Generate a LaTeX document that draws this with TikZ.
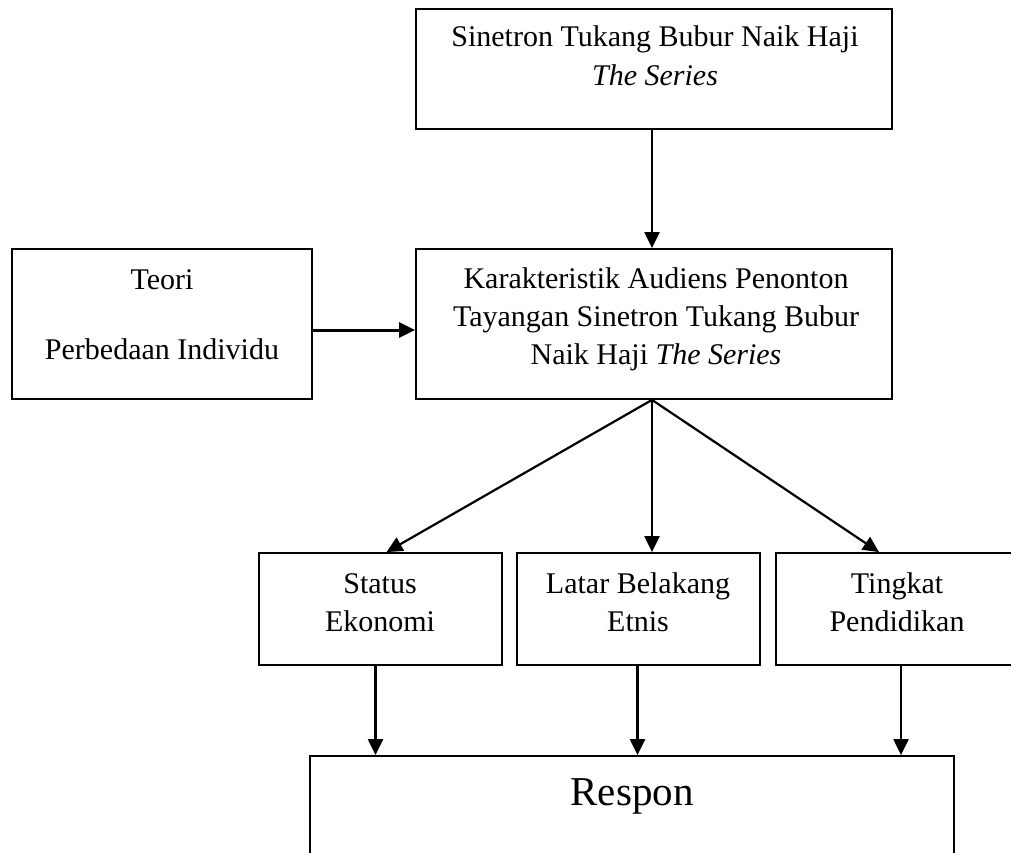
\documentclass[tikz,border=0pt]{standalone}
\usepackage{fontspec}
\setmainfont{Liberation Serif}
\usetikzlibrary{arrows.meta,calc}
\begin{document}
\begin{tikzpicture}[x=1pt,y=-1pt,
  box/.style={draw,line width=1.8pt,inner sep=0pt,rectangle},
  txt/.style={anchor=base,inner sep=0pt,font=\fontsize{30pt}{39pt}\selectfont},
  big/.style={anchor=base,inner sep=0pt,font=\fontsize{41pt}{50pt}\selectfont},
  arr/.style={line width=2.2pt,-{Triangle[length=16pt,width=15pt]}}]
\clip (0,0) rectangle (1011,853);
\fill[white] (0,0) rectangle (1011,853);
% boxes
\node[box,minimum width=476pt,minimum height=120pt] (src) at (654,69) {};
\node[box,minimum width=300pt,minimum height=150pt] (teori) at (162,324) {};
\node[box,minimum width=476pt,minimum height=150pt] (kar) at (654,324) {};
\node[box,minimum width=243pt,minimum height=112pt] (stat) at (380.5,609) {};
\node[box,minimum width=243pt,minimum height=112pt] (latar) at (638.5,609) {};
\node[box,minimum width=242pt,minimum height=112pt] (ting) at (897,609) {};
\node[box,minimum width=644pt,minimum height=130pt] (resp) at (632,821) {};
% texts
\node[txt] (t1a) at (655,47) {Sinetron Tukang Bubur Naik Haji};
\node[txt] (t1b) at (655,86) {\itshape The Series};
\node[txt] (t2a) at (162,289) {Teori};
\node[txt] (t2b) at (162,359) {Perbedaan Individu};
\node[txt] (t3a) at (656,288) {Karakteristik Audiens Penonton};
\node[txt] (t3b) at (656,326) {Tayangan Sinetron Tukang Bubur};
\node[txt] (t3c) at (656,364) {Naik Haji \textit{The Series}};
\node[txt] (t4a) at (380,593) {Status};
\node[txt] (t4b) at (380,631) {Ekonomi};
\node[txt] (t5a) at (638,593) {Latar Belakang};
\node[txt] (t5b) at (638,631) {Etnis};
\node[txt] (t6a) at (897,593) {Tingkat};
\node[txt] (t6b) at (897,631) {Pendidikan};
\node[big] (t7) at (632,805) {Respon};
% connectors
\coordinate (kb) at ([xshift=-2pt]kar.south);
\draw[arr] ([xshift=-2pt]src.south) -- ([xshift=-2pt]kar.north);
\draw[arr,line width=3pt] ([yshift=-6pt]teori.east) -- ([yshift=-6pt]kar.west);
\draw[arr] (kb) -- ([xshift=6pt]stat.north);
\draw[arr] (kb) -- (kb |- latar.north);
\draw[arr] (kb) -- ([xshift=-18pt]ting.north);
\draw[arr] ([xshift=-5pt]stat.south) -- ([xshift=-5pt]stat.south |- resp.north);
\draw[arr] ([xshift=-1pt]latar.south) -- ([xshift=-1pt]latar.south |- resp.north);
\draw[arr] ([xshift=4pt]ting.south) -- ([xshift=4pt]ting.south |- resp.north);
\end{tikzpicture}
\end{document}
